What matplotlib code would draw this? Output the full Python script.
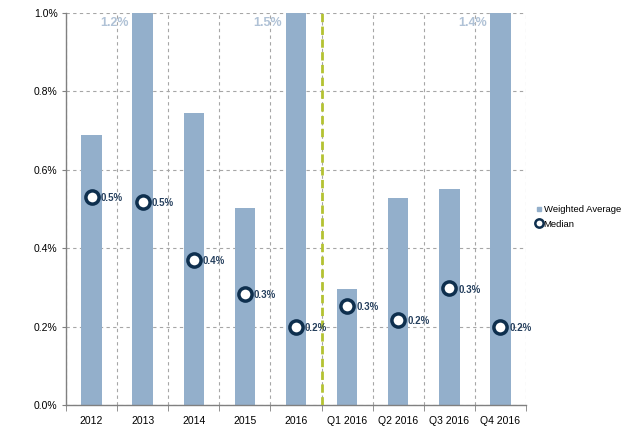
import matplotlib
matplotlib.use("Agg")
import matplotlib.pyplot as plt
from matplotlib.lines import Line2D
from matplotlib.ticker import FuncFormatter, MultipleLocator

plt.rcParams['font.family'] = ['Liberation Sans', 'DejaVu Sans']

# data
categories = ['2012', '2013', '2014', '2015', '2016', 'Q1 2016', 'Q2 2016', 'Q3 2016', 'Q4 2016']
weighted_avg = [0.69, 1.2, 0.745, 0.503, 1.5, 0.296, 0.528, 0.551, 1.4]
median = [0.531, 0.518, 0.37, 0.283, 0.20, 0.253, 0.217, 0.298, 0.199]
median_labels = ['0.5%', '0.5%', '0.4%', '0.3%', '0.2%', '0.3%', '0.2%', '0.3%', '0.2%']

bar_col = '#93afcb'
navy = '#0e2f4e'
grid_col = '#a6a6a6'

fig = plt.figure(figsize=(6.26, 4.38), dpi=100)
ax = fig.add_axes([66/626, 1 - 405/438, 460/626, 392/438])

x = list(range(len(categories)))
ax.bar(x, weighted_avg, width=0.4, color=bar_col, zorder=2)
ax.plot(x, median, linestyle='none', marker='o', markersize=9.5,
        markerfacecolor='white', markeredgecolor=navy, markeredgewidth=2.5, zorder=4)

for i, (m, lab) in enumerate(zip(median, median_labels)):
    ax.annotate(lab, (i, m), xytext=(6.5, -1), textcoords='offset points',
                ha='left', va='center', fontsize=7, fontweight='bold', color='#26405e', zorder=5)

# bars that run past the top of the axis get their value written beside them
for i, v in enumerate(weighted_avg):
    if v > 1.0:
        ax.text(i - 0.55, 0.975, '%.1f%%' % v, ha='center', va='center',
                fontsize=9, fontweight='bold', color='#b0c2d6', zorder=5)

# divider between annual and quarterly figures
ax.axvline(4.5, color='#b4c232', linewidth=2, dashes=(3, 1.6), zorder=3)

ax.set_xlim(-0.5, len(categories) - 0.5)
ax.set_ylim(0, 1.0)
ax.yaxis.set_major_locator(MultipleLocator(0.2))
ax.yaxis.set_major_formatter(FuncFormatter(lambda v, p: '%.1f%%' % v))
ax.set_xticks(x)
ax.set_xticklabels(categories)
ax.set_xticks([k + 0.5 for k in range(-1, len(categories))], minor=True)

ax.tick_params(axis='x', which='major', length=0, pad=8, labelsize=7.5)
ax.tick_params(axis='x', which='minor', length=4, color='#808080', direction='out')
ax.tick_params(axis='y', length=3, color='#808080', labelsize=7.5, pad=3)

ax.grid(axis='y', which='major', color=grid_col, linestyle=(0, (3, 3)), linewidth=0.8, zorder=0)
ax.grid(axis='x', which='minor', color=grid_col, linestyle=(0, (3, 3)), linewidth=0.8, zorder=0)

for s in ['top', 'right']:
    ax.spines[s].set_visible(False)
for s in ['left', 'bottom']:
    ax.spines[s].set_color('#808080')
    ax.spines[s].set_linewidth(1)

handles = [
    Line2D([], [], linestyle='none', marker='s', markersize=3.5, color=bar_col),
    Line2D([], [], linestyle='none', marker='o', markersize=6, markerfacecolor='white',
           markeredgecolor=navy, markeredgewidth=1.8),
]
fig.legend(handles, ['Weighted Average', 'Median'], loc='upper left',
           bbox_to_anchor=(537/626, 1 - 205/438), frameon=False, fontsize=6.8,
           handlelength=0.5, handletextpad=0.2, labelspacing=0.6, borderaxespad=0,
           borderpad=0)

fig.savefig('out.png', dpi=100)
